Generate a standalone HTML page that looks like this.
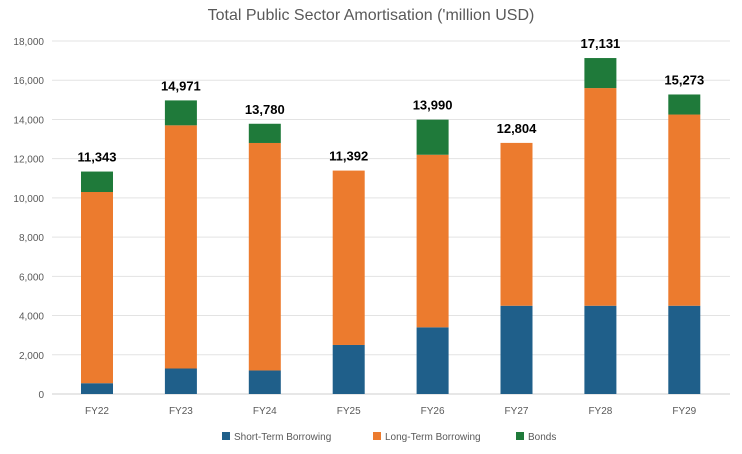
<!DOCTYPE html>
<html><head><meta charset="utf-8"><style>
body{margin:0;background:#fff;width:742px;height:449px;overflow:hidden;font-family:"Liberation Sans",sans-serif}
</style></head><body>
<svg id="c" width="742" height="449"></svg>
<script>
const categories=["FY22","FY23","FY24","FY25","FY26","FY27","FY28","FY29"];
const shortTerm=[550,1300,1200,2500,3400,4500,4500,4500];
const longTerm=[9750,12400,11600,8892,8800,8304,11100,9750];
const totals=[11343,14971,13780,11392,13990,12804,17131,15273];
const yTicks=[0,2000,4000,6000,8000,10000,12000,14000,16000,18000];
const NS="http://www.w3.org/2000/svg";
const svg=document.getElementById('c');
const y0=394,yTop=41,maxV=18000;
const y=v=>y0-(v/maxV)*(y0-yTop);
const x=i=>97+i*83.9;
const bw=32;
function mk(t,a,p){const e=document.createElementNS(NS,t);for(const k in a)e.setAttribute(k,a[k]);(p||svg).appendChild(e);return e;}
let t=mk('text',{x:371,y:20,'text-anchor':'middle','font-size':16,fill:'#595959'});


t.textContent="Total Public Sector Amortisation ('million USD)";
yTicks.forEach(v=>{
 const l=mk('line',{x1:52,x2:730,y1:y(v),y2:y(v),stroke:v?'#e3e3e3':'#cfcfcf','stroke-width':1});
 
 
 const tx=mk('text',{x:44,y:y(v)+4,'text-anchor':'end','font-size':10,fill:'#595959'});
 
 
 tx.textContent=v.toLocaleString('en-US');
});
categories.forEach((c,i)=>{
 const s=shortTerm[i],lt=longTerm[i],b=totals[i]-s-lt;
 const segs=[[0,s,'#1f5f8a','bar-short-term'],[s,s+lt,'#ec7b2e','bar-long-term'],[s+lt,totals[i],'#1f7a3a','bar-bonds']];
 segs.forEach(([a,bb,col,n])=>{
  if(bb<=a)return;
  const r=mk('rect',{x:x(i)-bw/2,y:y(bb),width:bw,height:y(a)-y(bb),fill:col});
  
  
 });
 const lab=mk('text',{x:x(i),y:y(totals[i])-10,'text-anchor':'middle','font-size':13,'font-weight':'bold',fill:'#000'});
 
 
 lab.textContent=totals[i].toLocaleString('en-US');
 const cx=mk('text',{x:x(i),y:414,'text-anchor':'middle','font-size':10,fill:'#595959'});
 
 
 cx.textContent=c;
});
const leg=[["Short-Term Borrowing",'#1f5f8a',222],["Long-Term Borrowing",'#ec7b2e',373],["Bonds",'#1f7a3a',516]];
leg.forEach(([n,col,lx])=>{
 const g=mk('g',{});
 
 
 mk('rect',{x:lx,y:432,width:8,height:8,fill:col},g);
 const tx=mk('text',{x:lx+12,y:440,'font-size':10,fill:'#595959'},g);
 tx.textContent=n;
});
</script>
</body></html>
